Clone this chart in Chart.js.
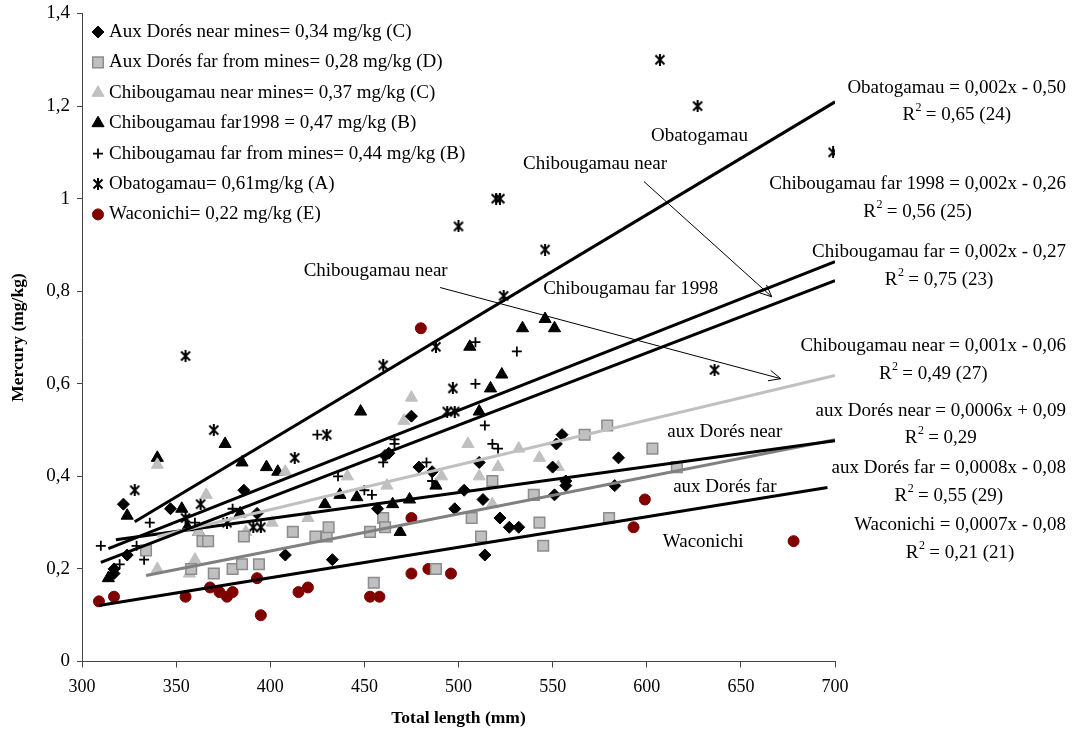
<!DOCTYPE html>
<html>
<head>
<meta charset="utf-8">
<title>Mercury vs total length</title>
<script src="https://cdn.jsdelivr.net/npm/chart.js@4.4.1/dist/chart.umd.min.js"></script>
<style>
  html, body { margin: 0; padding: 0; background: #fff; }
  #wrap { width: 1073px; height: 730px; }
</style>
</head>
<body>
<div id="wrap"><canvas id="mercuryChart" width="1073" height="730"></canvas></div>
<script>
// Total length (mm) vs mercury (mg/kg), one array per sampling group
const auxDoresNear = [
  [317,0.20],[317,0.19],[322,0.34],[324,0.23],[347,0.33],[386,0.37],[393,0.32],[408,0.23],
  [433,0.22],[457,0.33],[461,0.445],[463,0.45],[475,0.53],[479,0.42],[486,0.41],[498,0.33],
  [503,0.37],[511,0.43],[513,0.35],[514,0.23],[522,0.31],[527,0.29],[532,0.29],[551,0.36],
  [550,0.42],[552,0.47],[555,0.49],[557,0.39],[557,0.38],[583,0.38],[585,0.44]
];
const auxDoresFar = [
  [334,0.24],[358,0.20],[364,0.26],[367,0.26],[370,0.19],[380,0.20],[385,0.21],[386,0.27],
  [394,0.21],[412,0.28],[424,0.27],[430,0.27],[431,0.29],[453,0.28],[455,0.17],[460,0.31],
  [461,0.29],[488,0.20],[507,0.31],[512,0.27],[518,0.39],[540,0.36],[543,0.30],[545,0.25],
  [567,0.49],[579,0.51],[580,0.31],[603,0.46],[616,0.42]
];
const chibNear = [
  [340,0.425],[340,0.20],[357,0.19],[360,0.22],[362,0.28],[366,0.36],[387,0.28],[401,0.30],
  [408,0.41],[420,0.31],[441,0.40],[462,0.38],[471,0.52],[475,0.57],[491,0.40],[505,0.47],
  [511,0.40],[518,0.34],[521,0.42],[532,0.46],[543,0.44],[553,0.42]
];
const chibFar1998 = [
  [314,0.18],[324,0.315],[340,0.44],[353,0.33],[356,0.29],[362,0.28],[376,0.47],[384,0.32],
  [385,0.43],[398,0.42],[404,0.41],[429,0.34],[437,0.36],[446,0.355],[448,0.54],[465,0.34],
  [469,0.28],[474,0.35],[488,0.38],[506,0.68],[511,0.54],[517,0.59],[523,0.62],[534,0.72],
  [546,0.74],[551,0.72]
];
const chibFar = [
  [310,0.25],[320,0.21],[329,0.25],[333,0.22],[336,0.30],[360,0.30],[380,0.33],[425,0.49],
  [436,0.40],[450,0.37],[454,0.36],[460,0.43],[466,0.48],[466,0.47],[483,0.43],[486,0.39],
  [509,0.69],[509,0.60],[514,0.51],[518,0.47],[521,0.46],[531,0.67]
];
const obatogamau = [
  [328,0.37],[355,0.66],[355,0.31],[363,0.34],[370,0.50],[377,0.30],[391,0.29],[395,0.29],
  [413,0.44],[430,0.49],[460,0.64],[488,0.68],[494,0.54],[498,0.54],[497,0.59],[500,0.94],
  [520,1.00],[522,1.00],[524,0.79],[546,0.89],[607,1.30],[627,1.20],[636,0.63],[699,1.10]
];
const waconichi = [
  [309,0.13],[317,0.14],[355,0.14],[368,0.16],[373,0.15],[377,0.14],[380,0.15],[393,0.18],
  [395,0.10],[415,0.15],[420,0.16],[453,0.14],[458,0.14],[475,0.19],[475,0.31],[480,0.72],
  [484,0.20],[496,0.19],[593,0.29],[599,0.35],[678,0.26]
];

// regression lines (start and end of each fitted line)
const trendObatogamau = [[328,0.302],[700,1.209]];
const trendChibFar1998 = [[314,0.244],[700,0.864]];
const trendChibFar = [[310,0.214],[700,0.823]];
const trendChibNear = [[340,0.270],[700,0.618]];
const trendAuxDoresNear = [[318,0.263],[700,0.477]];
const trendAuxDoresFar = [[334,0.186],[700,0.479]];
const trendWaconichi = [[309,0.121],[696,0.376]];

const legendLabels = [
  'Aux Dorés near mines= 0,34 mg/kg (C)',
  'Aux Dorés far from mines= 0,28 mg/kg (D)',
  'Chibougamau near mines= 0,37 mg/kg (C)',
  'Chibougamau far1998 = 0,47 mg/kg (B)',
  'Chibougamau far from mines= 0,44 mg/kg (B)',
  'Obatogamau= 0,61mg/kg (A)',
  'Waconichi= 0,22 mg/kg (E)'
];

const equations = [
  'Obatogamau = 0,002x - 0,50',
  'Chibougamau far 1998 = 0,002x - 0,26',
  'Chibougamau far = 0,002x - 0,27',
  'Chibougamau near = 0,001x - 0,06',
  'aux Dorés near = 0,0006x + 0,09',
  'aux Dorés far = 0,0008x - 0,08',
  'Waconichi = 0,0007x - 0,08'
];
const rSquared = [' = 0,65 (24)', ' = 0,56 (25)', ' = 0,75 (23)', ' = 0,49 (27)', ' = 0,29', ' = 0,55 (29)', ' = 0,21 (21)'];
const equationY = [1.240, 1.031, 0.884, 0.681, 0.542, 0.417, 0.294];

// text labels inside the plot: [text, x, y]
const lineLabels = [
  ['Obatogamau', 628, 1.136],
  ['Chibougamau near', 572.5, 1.074],
  ['Chibougamau far 1998', 591.5, 0.804],
  ['Chibougamau near', 456, 0.843],
  ['aux Dorés near', 641.5, 0.495],
  ['aux Dorés far', 641.5, 0.378],
  ['Waconichi', 630, 0.259]
];
// arrows: [x1, y1, x2, y2]
const arrows = [
  [598.5, 1.037, 666.4, 0.788],
  [490.2, 0.808, 671.2, 0.611]
];

const FONT = "'Liberation Serif', 'Times New Roman', serif";
const LIGHT = '#c0c0c0';
const GREY = '#808080';
const DARKRED = '#800000';

function toXY(arr) {
  return arr.map(p => ({ x: p[0], y: p[1] }));
}

// Excel-style asterisk marker: an X with a vertical bar
function makeAsterisk() {
  const c = document.createElement('canvas');
  c.width = 12; c.height = 12;
  const g = c.getContext('2d');
  g.strokeStyle = '#000';
  g.lineWidth = 2;
  g.beginPath();
  g.moveTo(1.5, 1.5); g.lineTo(10.5, 10.5);
  g.moveTo(10.5, 1.5); g.lineTo(1.5, 10.5);
  g.moveTo(6, 0); g.lineTo(6, 12);
  g.stroke();
  return c;
}
const asterisk = makeAsterisk();

function pointSet(label, data, style, radius, fill, border, bw) {
  return {
    label: label,
    data: toXY(data),
    showLine: false,
    pointStyle: style,
    pointRadius: radius,
    pointBackgroundColor: fill,
    pointBorderColor: border,
    pointBorderWidth: bw,
    order: 1
  };
}
function trendSet(data, color) {
  return {
    data: toXY(data),
    showLine: true,
    pointRadius: 0,
    borderColor: color,
    borderWidth: 3,
    fill: false,
    order: 0
  };
}

const pointSets = [
  pointSet(legendLabels[0], auxDoresNear, 'rectRot', 6, '#000', '#000', 1),
  pointSet(legendLabels[1], auxDoresFar, 'rect', 7.5, LIGHT, '#8c8c8c', 1.5),
  pointSet(legendLabels[2], chibNear, 'triangle', 7, LIGHT, LIGHT, 1),
  pointSet(legendLabels[3], chibFar1998, 'triangle', 7, '#000', '#000', 1),
  pointSet(legendLabels[4], chibFar, 'cross', 5, '#000', '#000', 1.8),
  pointSet(legendLabels[5], obatogamau, asterisk, 6, '#000', '#000', 1),
  pointSet(legendLabels[6], waconichi, 'circle', 5.5, DARKRED, DARKRED, 1)
];

const trendSets = [
  trendSet(trendObatogamau, '#000'),
  trendSet(trendChibFar1998, '#000'),
  trendSet(trendChibFar, '#000'),
  trendSet(trendChibNear, LIGHT),
  trendSet(trendAuxDoresNear, '#000'),
  trendSet(trendAuxDoresFar, GREY),
  trendSet(trendWaconichi, '#000')
];

function drawMarker(ctx, ds, x, y) {
  ctx.save();
  ctx.fillStyle = ds.pointBackgroundColor;
  ctx.strokeStyle = ds.pointBorderColor;
  ctx.lineWidth = ds.pointBorderWidth;
  Chart.helpers.drawPoint(ctx, {
    pointStyle: ds.pointStyle,
    radius: ds.pointRadius,
    rotation: 0,
    borderWidth: ds.pointBorderWidth
  }, x, y);
  ctx.restore();
}

function drawArrow(ctx, x1, y1, x2, y2) {
  const ang = Math.atan2(y2 - y1, x2 - x1);
  const len = 13, spread = 0.42;
  ctx.beginPath();
  ctx.moveTo(x1, y1);
  ctx.lineTo(x2, y2);
  ctx.moveTo(x2 - len * Math.cos(ang - spread), y2 - len * Math.sin(ang - spread));
  ctx.lineTo(x2, y2);
  ctx.lineTo(x2 - len * Math.cos(ang + spread), y2 - len * Math.sin(ang + spread));
  ctx.stroke();
}

// legend, line labels, arrows and regression equations
const annotations = {
  id: 'annotations',
  afterDraw(chart) {
    const ctx = chart.ctx;
    const xs = chart.scales.x, ys = chart.scales.y;
    const area = chart.chartArea;

    ctx.save();
    ctx.fillStyle = '#000';
    ctx.font = '19px ' + FONT;
    ctx.textBaseline = 'middle';

    // legend in the top-left corner of the plot
    const legX = area.left + 16, legTop = area.top + 18.5, legStep = 30.4;
    pointSets.forEach((ds, i) => {
      const y = legTop + i * legStep;
      drawMarker(ctx, ds, legX, y);
      ctx.fillStyle = '#000';
      ctx.textAlign = 'left';
      ctx.fillText(ds.label, legX + 11, y);
    });

    // labels next to the fitted lines
    ctx.textAlign = 'center';
    lineLabels.forEach(l => {
      ctx.fillText(l[0], xs.getPixelForValue(l[1]), ys.getPixelForValue(l[2]));
    });

    // arrows
    ctx.strokeStyle = '#000';
    ctx.lineWidth = 1;
    arrows.forEach(a => {
      drawArrow(ctx, xs.getPixelForValue(a[0]), ys.getPixelForValue(a[1]),
        xs.getPixelForValue(a[2]), ys.getPixelForValue(a[3]));
    });

    // equations on the right side
    const right = area.right + 231;
    equations.forEach((eq, i) => {
      const y = ys.getPixelForValue(equationY[i]);
      ctx.font = '19px ' + FONT;
      const w = ctx.measureText(eq).width;
      ctx.textAlign = 'left';
      ctx.fillText(eq, right - w, y);

      const centre = right - w / 2;
      const y2 = y + 27.5;
      const wR = ctx.measureText('R').width;
      const wRest = ctx.measureText(rSquared[i]).width;
      ctx.font = '12px ' + FONT;
      const wSup = ctx.measureText('2').width;
      let x0 = centre - (wR + wSup + wRest) / 2;
      ctx.font = '19px ' + FONT;
      ctx.fillText('R', x0, y2);
      ctx.font = '12px ' + FONT;
      ctx.fillText('2', x0 + wR + 0.5, y2 - 7);
      ctx.font = '19px ' + FONT;
      ctx.fillText(rSquared[i], x0 + wR + wSup, y2);
    });
    ctx.restore();
  }
};

Chart.defaults.font.family = FONT;
Chart.defaults.color = '#000';

new Chart(document.getElementById('mercuryChart'), {
  type: 'scatter',
  data: { datasets: trendSets.concat(pointSets) },
  options: {
    responsive: false,
    animation: false,
    devicePixelRatio: 1,
    layout: { padding: { top: 13.5, right: 238, left: 0, bottom: 0 } },
    plugins: {
      legend: { display: false },
      tooltip: { enabled: false }
    },
    scales: {
      x: {
        type: 'linear',
        min: 300,
        max: 700,
        ticks: { stepSize: 50, color: '#000', font: { size: 18 }, padding: 9 },
        grid: { drawOnChartArea: false, drawTicks: true, tickLength: 6, color: '#444' },
        border: { color: '#444', width: 1 },
        title: {
          display: true,
          text: 'Total length (mm)',
          color: '#000',
          font: { size: 17.5, weight: 'bold' },
          padding: { top: 0, bottom: 1 }
        },
        afterFit(scale) {
          scale.height = 68.5;
          scale.paddingLeft = 0;
          scale.paddingRight = 0;
        }
      },
      y: {
        min: 0,
        max: 1.4,
        ticks: {
          stepSize: 0.2,
          color: '#000',
          font: { size: 19 },
          padding: 7,
          callback: v => String(Math.round(v * 10) / 10).replace('.', ',')
        },
        grid: { drawOnChartArea: false, drawTicks: true, tickLength: 5, color: '#444' },
        border: { color: '#444', width: 1 },
        title: {
          display: true,
          text: 'Mercury (mg/kg)',
          color: '#000',
          font: { size: 17.5, weight: 'bold' },
          padding: { top: 8, bottom: 0 }
        },
        afterFit(scale) {
          scale.width = 82;
          scale.paddingTop = 0;
          scale.paddingBottom = 0;
        }
      }
    }
  },
  plugins: [annotations]
});
</script>
</body>
</html>
